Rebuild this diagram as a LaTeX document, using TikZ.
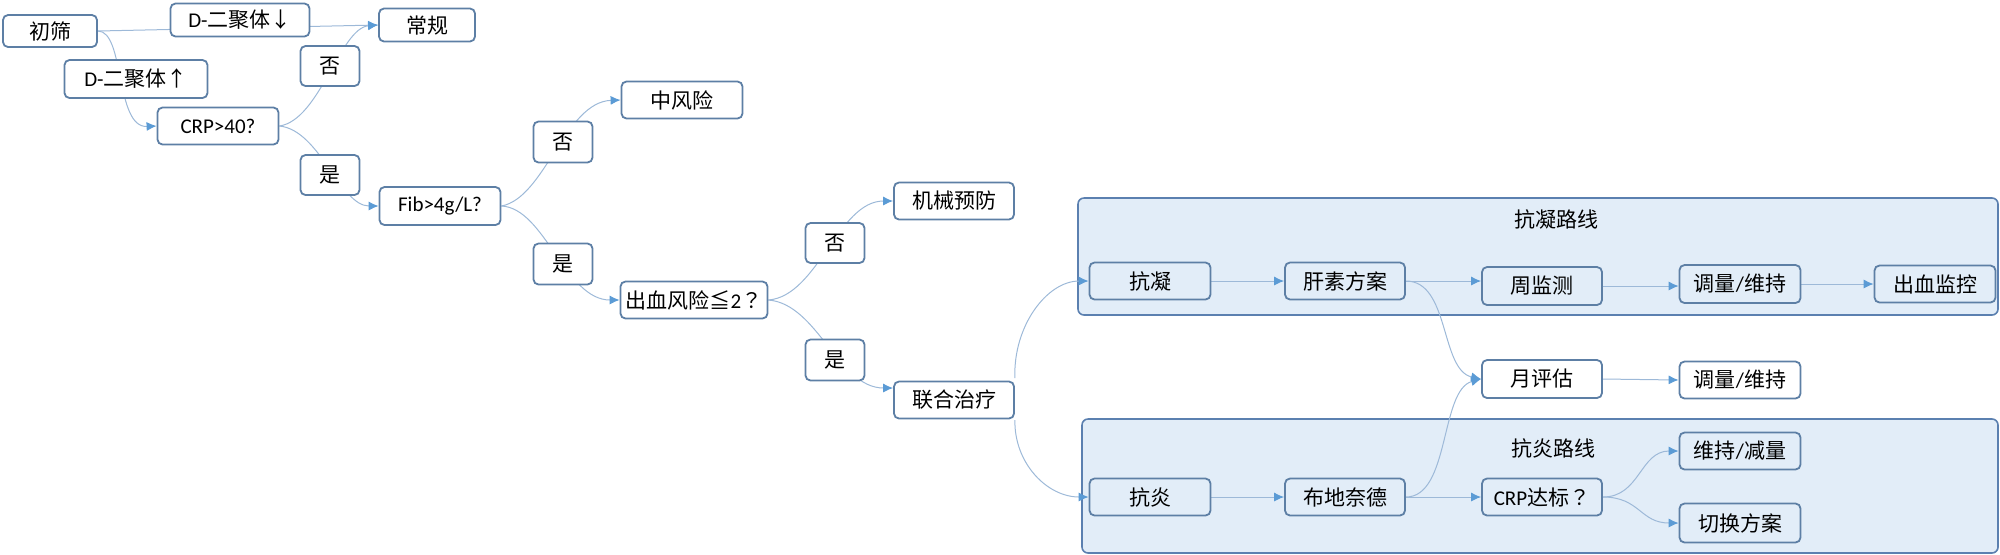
\documentclass[tikz,border=0pt]{standalone}
\usepackage{fontspec}
\setmainfont{Carlito}
\newfontfamily\cjk{Noto Sans CJK SC}
\newfontfamily\cjkq{Noto Sans CJK JP}
\usetikzlibrary{arrows.meta,calc}
\definecolor{bd}{HTML}{5D7FA5}
\definecolor{ed}{HTML}{9DB9D8}
\definecolor{ah}{HTML}{5B9BD5}
\definecolor{gf}{HTML}{E2EDF8}
\definecolor{gb}{HTML}{5B80B0}
\pgfdeclarelayer{grp}\pgfdeclarelayer{edges}\pgfsetlayers{grp,edges,main}
\begin{document}
\begin{tikzpicture}[x=0.5pt,y=-0.5pt,
 box/.style={draw=bd, line width=0.9pt, rounded corners=2.5pt, fill=white, inner sep=0pt, font=\fontsize{10.5pt}{12pt}\selectfont},
 gbox/.style={box, fill=gf},
 grpbox/.style={draw=gb, line width=0.8pt, rounded corners=3pt, fill=gf, inner sep=0pt},
 edge/.style={draw=ed, line width=0.5pt},
 arr/.style={edge, -{Latex[length=5pt,width=4.5pt,color=ah]}},
 ttl/.style={font=\fontsize{10.5pt}{12pt}\selectfont, inner sep=0pt}]
\useasboundingbox (0,0) rectangle (2000,554);
% groups
\begin{pgfonlayer}{grp}
\node[grpbox, minimum width=460pt, minimum height=58.5pt] (g1) at (1538,256.5) {};
\node[grpbox, minimum width=458pt, minimum height=67pt] (g2) at (1540,486) {};
\end{pgfonlayer}
\node[ttl] (t1) at (1556,219) {\cjk 抗凝路线};
\node[ttl] (t2) at (1553,448) {\cjk 抗炎路线};
% nodes
\node[box,minimum width=47pt,minimum height=16pt] (chushai) at (50,31) {\cjk 初筛};
\node[box,minimum width=69.5pt,minimum height=16.5pt] (dlow) at (240,20) {D-{\cjk 二聚体↓}};
\node[box,minimum width=48pt,minimum height=16.5pt] (changgui) at (427,25) {\cjk 常规};
\node[box,minimum width=29.5pt,minimum height=20pt] (no1) at (330,66) {\cjk 否};
\node[box,minimum width=71.5pt,minimum height=19pt] (dhigh) at (136,79) {D-{\cjk 二聚体↑}};
\node[box,minimum width=60.5pt,minimum height=18.5pt] (crp) at (218,126) {CRP>40?};
\node[box,minimum width=29.5pt,minimum height=20pt] (yes1) at (330,175) {\cjk 是};
\node[box,minimum width=60.5pt,minimum height=19pt] (fib) at (440,206) {Fib>4g/L?};
\node[box,minimum width=60.5pt,minimum height=18.5pt] (zhong) at (682,100) {\cjk 中风险};
\node[box,minimum width=29.5pt,minimum height=20.5pt] (no2) at (563,142) {\cjk 否};
\node[box,minimum width=29.5pt,minimum height=20.5pt] (yes2) at (563,264) {\cjk 是};
\node[box,minimum width=73.5pt,minimum height=18.5pt] (chuxue) at (694,300) {{\cjk 出血风险≦}2{\cjkq ？}};
\node[box,minimum width=60pt,minimum height=18.5pt] (jixie) at (954,201) {\cjk 机械预防};
\node[box,minimum width=29.5pt,minimum height=20pt] (no3) at (835,243) {\cjk 否};
\node[box,minimum width=29.5pt,minimum height=20.5pt] (yes3) at (835,360) {\cjk 是};
\node[box,minimum width=60pt,minimum height=18.5pt] (lianhe) at (954,400) {\cjk 联合治疗};
\node[gbox,minimum width=60.5pt,minimum height=18.5pt] (kangning) at (1150,281) {\cjk 抗凝};
\node[gbox,minimum width=60pt,minimum height=18.5pt] (gansu) at (1345,281) {\cjk 肝素方案};
\node[gbox,minimum width=60pt,minimum height=19pt] (zhou) at (1542,286) {\cjk 周监测};
\node[gbox,minimum width=60.5pt,minimum height=19pt] (tiao1) at (1740,284) {{\cjk 调量}/{\cjk 维持}};
\node[gbox,minimum width=60.5pt,minimum height=18.5pt] (chuxuejk) at (1935,284) {\cjk 出血监控};
\node[box,minimum width=60pt,minimum height=19pt] (yue) at (1542,379) {\cjk 月评估};
\node[box,minimum width=60.5pt,minimum height=18.5pt] (tiao2) at (1740,380) {{\cjk 调量}/{\cjk 维持}};
\node[gbox,minimum width=60.5pt,minimum height=18.5pt] (weichi) at (1740,451) {{\cjk 维持}/{\cjk 减量}};
\node[gbox,minimum width=60.5pt,minimum height=18.5pt] (kangyan) at (1150,497) {\cjk 抗炎};
\node[gbox,minimum width=60pt,minimum height=18.5pt] (budi) at (1345,497) {\cjk 布地奈德};
\node[gbox,minimum width=60pt,minimum height=18.5pt] (crpdb) at (1542,497) {CRP{\cjk 达标}{\cjkq ？}};
\node[gbox,minimum width=60.5pt,minimum height=19.5pt] (qiehuan) at (1740,523) {\cjk 切换方案};
% edges
\begin{pgfonlayer}{edges}
\draw[arr] (chushai.east) -- (changgui.west);
\draw[arr] (chushai.east) .. controls (125,31) and (115,128) .. (crp.west);
\draw[arr] (crp.east) .. controls (320,120) and (340,28) .. (changgui.west);
\draw[arr] (crp.east) .. controls (320,130) and (340,206) .. (fib.west);
\draw[arr] (fib.east) .. controls (545,198) and (565,102) .. (zhong.west);
\draw[arr] (fib.east) .. controls (545,208) and (565,300) .. (chuxue.west);
\draw[arr] (chuxue.east) .. controls (818,296) and (838,201) .. (jixie.west);
\draw[arr] (chuxue.east) .. controls (818,304) and (838,388) .. ([yshift=6pt]lianhe.west);
\draw[arr] ([yshift=11pt]lianhe.east) .. controls (1013,326) and (1047,281) .. (kangning.west);
\draw[arr] ([yshift=-10pt]lianhe.east) .. controls (1014,463) and (1047,497) .. (kangyan.west);
\draw[arr] (kangning.east) -- (gansu.west);
\draw[arr] (gansu.east) -- (gansu.east -| zhou.west);
\draw[arr] (gansu.east) .. controls (1450,281) and (1440,370) .. (yue.west);
\draw[arr] (budi.east) .. controls (1450,497) and (1440,390) .. (yue.west);
\draw[arr] (kangyan.east) -- (budi.west);
\draw[arr] (budi.east) -- (crpdb.west);
\draw[arr] (zhou.east) -- (zhou.east -| tiao1.west);
\draw[arr] (tiao1.east) -- (chuxuejk.west);
\draw[arr] (yue.east) -- (tiao2.west);
\draw[arr] (crpdb.east) .. controls (1640,497) and (1640,451) .. (weichi.west);
\draw[arr] (crpdb.east) .. controls (1640,497) and (1640,523) .. (qiehuan.west);
\end{pgfonlayer}
\end{tikzpicture}
\end{document}
